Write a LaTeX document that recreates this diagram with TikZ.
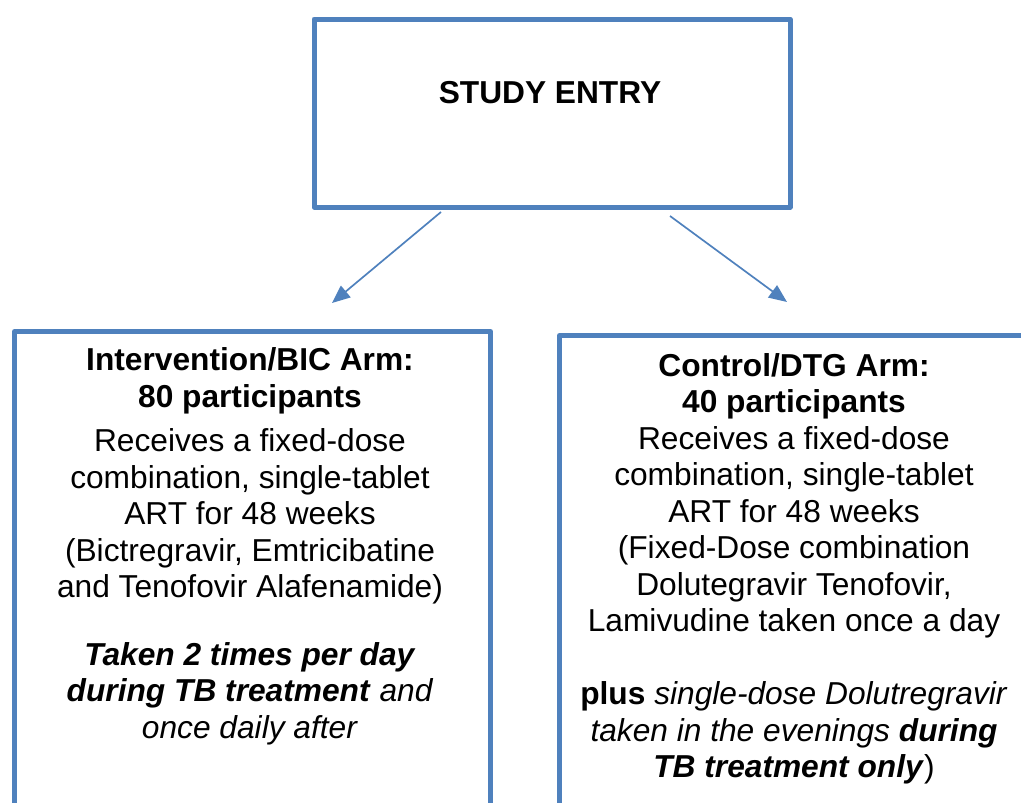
\documentclass[tikz,border=0pt]{standalone}
\usepackage{fontspec}
\setmainfont{Liberation Sans}
\usetikzlibrary{arrows.meta}
\definecolor{boxblue}{RGB}{79,129,189}
\begin{document}
\begin{tikzpicture}[x=1pt,y=-1pt,
  box/.style={draw=boxblue,line width=5pt,line join=round,inner sep=0pt,anchor=north west},
  txt/.style={font=\fontsize{31.7}{36.5}\selectfont,align=center,anchor=base,inner sep=0pt},
  link/.style={draw=boxblue,line width=1.7pt,-{Triangle[length=18pt,width=15pt]}}]
\useasboundingbox (0,0) rectangle (1021,803);
\clip (0,0) rectangle (1021,803);
% boxes
\node[box,minimum width=476pt,minimum height=188pt] (entry) at (311.5,16.5) {};
\node[box,minimum width=476pt,minimum height=520pt] (bic) at (12,329) {};
\node[box,minimum width=520pt,minimum height=520pt] (dtg) at (557,333) {};
% texts (anchor base = baseline of last line)
\node[txt] (entrytxt) at (550,103) {\bfseries STUDY ENTRY};
\node[txt] (bictxt) at (250,738) {\bfseries Intervention/BIC Arm:\\
\bfseries 80 participants\\[8pt]
Receives a fixed-dose\\
combination, single-tablet\\
ART for 48 weeks\\
(Bictregravir, Emtricibatine\\
and Tenofovir Alafenamide)\\[31pt]
\textbf{\textit{Taken 2 times per day}}\\
\textbf{\textit{during TB treatment}}\textit{ and}\\
\textit{once daily after}};
\node[txt] (dtgtxt) at (794,777.5) {\bfseries Control/DTG Arm:\\
\bfseries 40 participants\\
Receives a fixed-dose\\
combination, single-tablet\\
ART for 48 weeks\\
(Fixed-Dose combination\\
Dolutegravir Tenofovir,\\
Lamivudine taken once a day\\[36.5pt]
\textbf{plus}\textit{ single-dose Dolutregravir}\\
\textit{taken in the evenings }\textbf{\textit{during}}\\
\textbf{\textit{TB treatment only}})};
% connectors
\coordinate (l1) at (441,212);
\coordinate (l2) at (332,303);
\coordinate (r1) at (670,216);
\coordinate (r2) at (787,302);
\draw[link] (l1) -- (l2);
\draw[link] (r1) -- (r2);
\end{tikzpicture}
\end{document}
